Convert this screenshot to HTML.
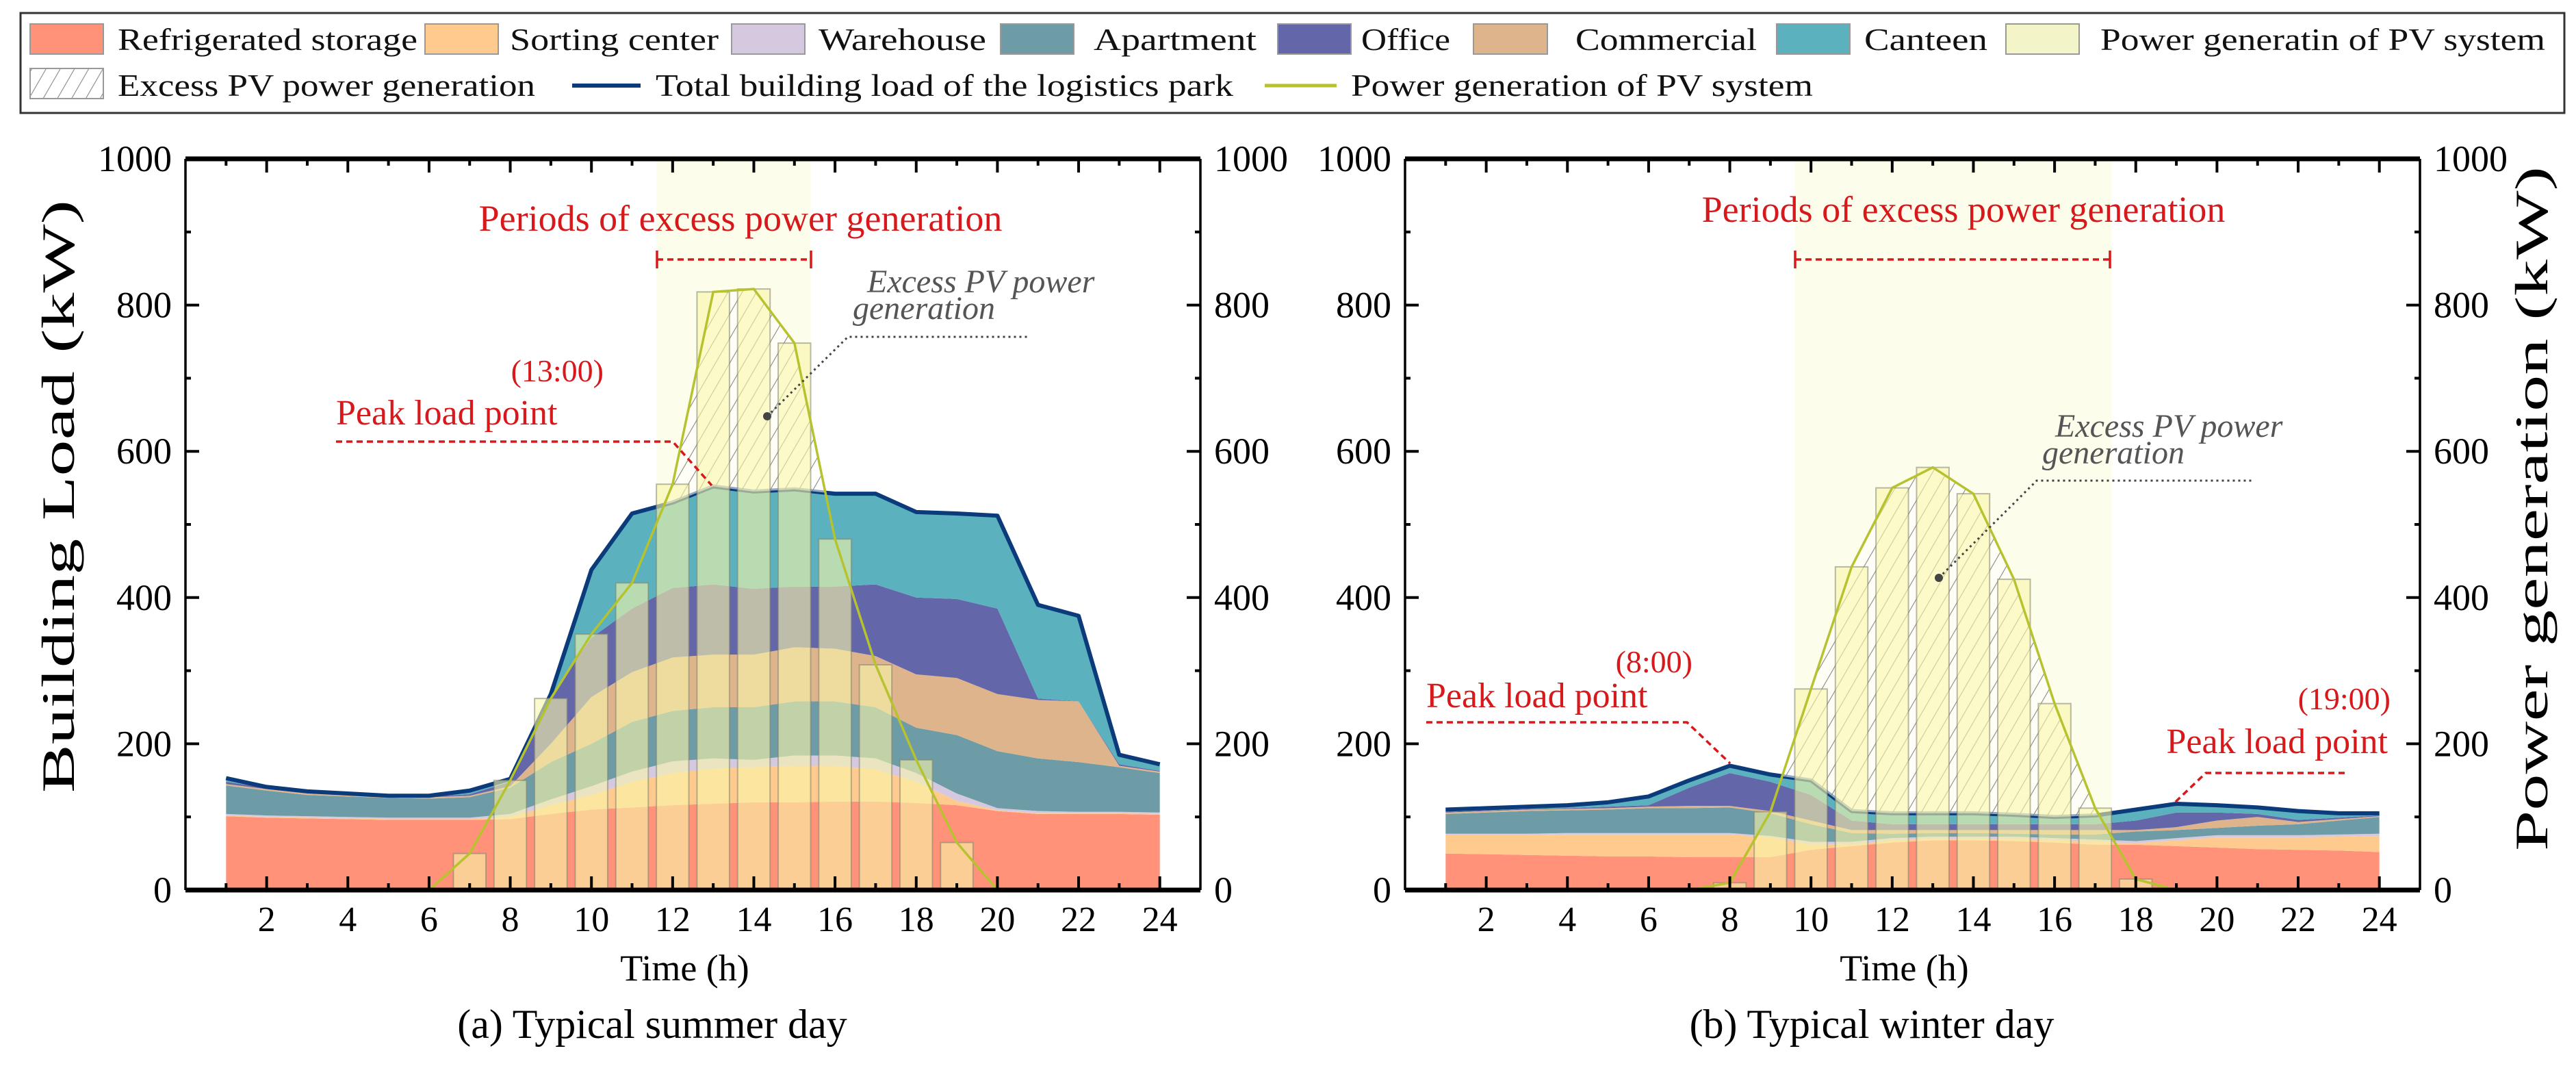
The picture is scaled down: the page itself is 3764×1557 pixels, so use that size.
<!DOCTYPE html>
<html><head><meta charset="utf-8"><style>
html,body{margin:0;padding:0;background:#fff;}
svg{display:block;}
text{font-family:"Liberation Serif",serif;}
</style></head><body>
<svg id="fig" width="3764" height="1557" viewBox="0 0 3764 1557" xmlns="http://www.w3.org/2000/svg">
<defs>
<pattern id="hatch" patternUnits="userSpaceOnUse" width="18" height="18" patternTransform="rotate(30)">
<rect width="18" height="18" fill="#ffffff" fill-opacity="0.55"/>
<line x1="0" y1="0" x2="0" y2="18" stroke="#8a8a80" stroke-width="2.2"/>
</pattern>
</defs>
<g id="legend">
<rect x="30" y="19" width="3717" height="146" fill="#fff" stroke="#333" stroke-width="3"/>
<g font-size="46" fill="#111">
<g><rect x="44" y="35" width="107" height="44" fill="#ff9278" stroke="#999" stroke-width="2"/><text x="172" y="73" textLength="438" lengthAdjust="spacingAndGlyphs">Refrigerated storage</text></g>
<g><rect x="621" y="35" width="107" height="44" fill="#ffca8e" stroke="#999" stroke-width="2"/><text x="745" y="73" textLength="305" lengthAdjust="spacingAndGlyphs">Sorting center</text></g>
<g><rect x="1069" y="35" width="107" height="44" fill="#d5c9e0" stroke="#999" stroke-width="2"/><text x="1196" y="73" textLength="245" lengthAdjust="spacingAndGlyphs">Warehouse</text></g>
<g><rect x="1462" y="35" width="107" height="44" fill="#6e9ca6" stroke="#999" stroke-width="2"/><text x="1598" y="73" textLength="238" lengthAdjust="spacingAndGlyphs">Apartment</text></g>
<g><rect x="1867" y="35" width="107" height="44" fill="#6466aa" stroke="#999" stroke-width="2"/><text x="1989" y="73" textLength="130" lengthAdjust="spacingAndGlyphs">Office</text></g>
<g><rect x="2153" y="35" width="108" height="44" fill="#deb48c" stroke="#999" stroke-width="2"/><text x="2302" y="73" textLength="265" lengthAdjust="spacingAndGlyphs">Commercial</text></g>
<g><rect x="2596" y="35" width="107" height="44" fill="#5bb1be" stroke="#999" stroke-width="2"/><text x="2724" y="73" textLength="180" lengthAdjust="spacingAndGlyphs">Canteen</text></g>
<g><rect x="2931" y="35" width="107" height="44" fill="#f3f5c8" stroke="#999" stroke-width="2"/><text x="3069" y="73" textLength="650" lengthAdjust="spacingAndGlyphs">Power generatin of PV system</text></g>
<g><rect x="44" y="100" width="107" height="44" fill="url(#hatch)" stroke="#999" stroke-width="2"/><text x="172" y="140" textLength="610" lengthAdjust="spacingAndGlyphs">Excess PV power generation</text></g>
<g><line x1="836" y1="125" x2="936" y2="125" stroke="#0b3b7a" stroke-width="6"/><text x="958" y="140" textLength="844" lengthAdjust="spacingAndGlyphs">Total building load of the logistics park</text></g>
<g><line x1="1848" y1="125" x2="1953" y2="125" stroke="#b6c22e" stroke-width="5"/><text x="1974" y="140" textLength="675" lengthAdjust="spacingAndGlyphs">Power generation of PV system</text></g>
</g>
</g>
<g id="panelA"></g>
<g id="panelB"></g>
<g id="annot"></g>
</svg>
<script>
// ---- data: typical summer day (cumulative stacked tops, kW), hours 1..24 ----
const hours = [1,2,3,4,5,6,7,8,9,10,11,12,13,14,15,16,17,18,19,20,21,22,23,24];
const layerNames = ['refrigerated-storage','sorting-center','warehouse','apartment','commercial','office','canteen'];
const layerColors = ['#ff9278','#ffca8e','#d5c9e0','#6e9ca6','#deb48c','#6466aa','#5bb1be'];
const sumRefr = [101,99,98,97,96,96,96,97,104,110,113,116,118,120,120,121,121,119,116,108,104,104,104,103];
const sumSort = [102,100,99,98,97,97,97,100,116,130,148,160,166,168,170,170,165,148,122,109,105,105,105,104];
const sumWare = [104,102,101,100,99,99,99,104,124,142,162,176,180,178,184,184,180,160,132,112,108,107,107,106];
const sumApt  = [143,136,130,128,126,125,127,140,175,200,230,245,250,250,258,258,250,222,212,190,180,175,168,160];
const sumComm = [145,138,132,130,128,127,129,142,200,264,298,318,322,322,332,330,320,295,290,268,260,258,170,162];
const sumOff  = [148,140,134,131,128,128,131,148,265,345,385,413,418,412,415,415,418,400,398,385,262,258,172,163];
const sumTotal= [153,141,135,132,129,129,136,152,268,438,515,530,552,545,548,542,542,517,515,512,390,375,185,172];
const sumPV   = [0,0,0,0,0,0,50,150,262,350,420,555,818,822,748,480,308,178,65,0,0,0,0,0];
// ---- data: typical winter day ----
const winRefr = [50,49,48,47,46,46,45,45,45,55,60,65,68,68,67,65,62,62,60,58,56,55,54,52];
const winSort = [75,75,75,76,76,76,76,76,72,62,62,68,70,70,70,68,66,64,68,72,72,72,73,74];
const winWare = [77,77,77,78,78,78,78,78,74,66,66,71,73,73,73,71,69,67,71,75,75,75,76,77];
const winApt  = [104,106,108,109,110,112,112,113,105,90,78,77,78,78,77,76,76,80,82,85,88,90,95,100];
const winComm = [106,108,110,111,112,114,115,115,108,95,82,82,82,82,82,82,82,82,86,95,100,93,97,101];
const winOff  = [107,109,111,112,114,116,140,160,148,130,95,90,90,90,90,90,90,95,106,106,104,96,99,102];
const winTotal= [110,112,114,116,120,128,150,170,158,150,108,105,105,105,103,100,102,110,118,116,113,108,105,105];
const winPV   = [0,0,0,0,0,0,0,10,107,275,442,550,578,542,425,255,112,15,0,0,0,0,0,0];
const yTicks = [0,200,400,600,800,1000];
const xTickLabels = [2,4,6,8,10,12,14,16,18,20,22,24];

const NS='http://www.w3.org/2000/svg';
function mk(parent,tag,attrs,txt){const e=document.createElementNS(NS,tag);for(const k in attrs)e.setAttribute(k,attrs[k]);if(txt!==undefined)e.textContent=txt;parent.appendChild(e);return e;}

function drawPanel(gid,x0,stacks,total,pv,band){
  const g=document.getElementById(gid);
  const W=1483, top=232, bot=1300;
  const X=h=>x0+h*W/25, Y=v=>bot-v*(bot-top)/1000;
  const bd=mk(g,'rect',{x:X(band[0]),y:top,width:X(band[1])-X(band[0]),height:bot-top,fill:'#fdfdec'});
  
  
  let prev=hours.map(()=>0);
  stacks.forEach((arr,i)=>{
    let d='M'+hours.map((h,j)=>X(h)+','+Y(arr[j])).join(' L');
    for(let j=hours.length-1;j>=0;j--) d+=' L'+X(hours[j])+','+Y(prev[j]);
    const p=mk(g,'path',{d:d+'Z',fill:layerColors[i]});
    
    
    prev=arr;
  });
  const tl=mk(g,'path',{d:'M'+hours.map((h,j)=>X(h)+','+Y(total[j])).join(' L'),fill:'none',stroke:'#0b3b7a','stroke-width':6,'stroke-linejoin':'round'});
  
  
  // excess hatched area
  let up=[],lo=[];
  for(let j=0;j<hours.length;j++){
    const d0=pv[j]-total[j];
    if(d0>0){up.push([hours[j],pv[j]]);lo.push([hours[j],total[j]]);}
    if(j<hours.length-1){
      const d1=pv[j+1]-total[j+1];
      if((d0>0)!==(d1>0)&&d0!==d1){
        const t=d0/(d0-d1);const hh=hours[j]+t;const vv=pv[j]+t*(pv[j+1]-pv[j]);
        up.push([hh,vv]);lo.push([hh,vv]);
      }
    }
  }
  if(up.length){
    let d='M'+up.map(p=>X(p[0])+','+Y(p[1])).join(' L');
    for(let k=lo.length-1;k>=0;k--) d+=' L'+X(lo[k][0])+','+Y(lo[k][1]);
    const hz=mk(g,'path',{d:d+'Z',fill:'url(#hatch)'});
    
    
  }
  hours.forEach((h,j)=>{
    if(pv[j]<=0) return;
    const b=mk(g,'rect',{x:X(h-0.4),y:Y(pv[j]),width:X(h+0.4)-X(h-0.4),height:bot-Y(pv[j]),fill:'rgba(248,246,170,0.6)',stroke:'rgba(130,130,110,0.55)','stroke-width':2});
    
    
  });
  let first=pv.findIndex(v=>v>0), last=pv.length-1-[...pv].reverse().findIndex(v=>v>0);
  const s=Math.max(0,first-1), e=Math.min(pv.length-1,last+1);
  let pd='';
  for(let j=s;j<=e;j++) pd+=(j===s?'M':' L')+X(hours[j])+','+Y(pv[j]);
  const pl=mk(g,'path',{d:pd,fill:'none',stroke:'#b6c22e','stroke-width':3.5});
  
  
  const ax=mk(g,'g',{});
  
  
  mk(ax,'line',{x1:x0,y1:bot,x2:x0+W,y2:bot,stroke:'#000','stroke-width':7});
  mk(ax,'line',{x1:x0,y1:top,x2:x0+W,y2:top,stroke:'#000','stroke-width':7});
  mk(ax,'line',{x1:x0,y1:top,x2:x0,y2:bot,stroke:'#000','stroke-width':3.5});
  mk(ax,'line',{x1:x0+W,y1:top,x2:x0+W,y2:bot,stroke:'#000','stroke-width':3.5});
  for(let h=1;h<=24;h++){
    const L=h%2===0?20:10;
    mk(ax,'line',{x1:X(h),y1:bot,x2:X(h),y2:bot-L,stroke:'#000','stroke-width':4});
    mk(ax,'line',{x1:X(h),y1:top,x2:X(h),y2:top+L,stroke:'#000','stroke-width':4});
  }
  for(let v=100;v<1000;v+=100){
    const L=v%200===0?20:8;
    mk(ax,'line',{x1:x0,y1:Y(v),x2:x0+L,y2:Y(v),stroke:'#000','stroke-width':4});
    mk(ax,'line',{x1:x0+W,y1:Y(v),x2:x0+W-L,y2:Y(v),stroke:'#000','stroke-width':4});
  }
  xTickLabels.forEach(h=>{
    const t=mk(ax,'text',{x:X(h),y:1360,'font-size':52,'text-anchor':'middle'},String(h));
    
    
  });
  yTicks.forEach(v=>{
    const t1=mk(ax,'text',{x:x0-20,y:Y(v)+18,'font-size':54,'text-anchor':'end'},String(v));
    
    
    const t2=mk(ax,'text',{x:x0+W+20,y:Y(v)+18,'font-size':54,'text-anchor':'start'},String(v));
    
    
  });
  const xt=mk(ax,'text',{x:x0+W/2-12,y:1432,'font-size':54,'text-anchor':'middle'},'Time (h)');
  
  
}
drawPanel('panelA',271,[sumRefr,sumSort,sumWare,sumApt,sumComm,sumOff,sumTotal],sumTotal,sumPV,[11.6,15.4]);
drawPanel('panelB',2053,[winRefr,winSort,winWare,winApt,winComm,winOff,winTotal],winTotal,winPV,[9.6,17.4]);
</script>
<script>
(function(){
const svg=document.getElementById('annot');
function t(x,y,s,sz,fill,anchor,extra){const e=document.createElementNS('http://www.w3.org/2000/svg','text');e.setAttribute('x',x);e.setAttribute('y',y);e.setAttribute('font-size',sz);e.setAttribute('fill',fill);e.setAttribute('text-anchor',anchor||'start');if(extra)for(const k in extra)e.setAttribute(k,extra[k]);e.textContent=s;svg.appendChild(e);return e;}
function l(d,stroke,w,dash){const e=document.createElementNS('http://www.w3.org/2000/svg','path');e.setAttribute('d',d);e.setAttribute('fill','none');e.setAttribute('stroke',stroke);e.setAttribute('stroke-width',w);if(dash)e.setAttribute('stroke-dasharray',dash);svg.appendChild(e);return e;}
const red='#d7191c', gray='#555';
let e;
e=t(1082,337,'Periods of excess power generation',54,red,'middle');
e=l('M960,379 L1185,379',red,3.5,'9,6');
l('M960,366 L960,392 M1185,366 L1185,392',red,3.5);
e=t(882,557,'(13:00)',46,red,'end');
e=t(491,620,'Peak load point',52,red,'start');
e=l('M491,645 L983,645 L1040,709',red,3.5,'9,6');
e=t(1267,427,'Excess PV power',48,gray,'start',{'font-style':'italic'});
t(1246,466,'generation',48,gray,'start',{'font-style':'italic'});
e=l('M1121,608 L1239,492 L1503,492','#444',3,'3,5');
const c1=document.createElementNS('http://www.w3.org/2000/svg','circle');c1.setAttribute('cx',1121);c1.setAttribute('cy',608);c1.setAttribute('r',6);c1.setAttribute('fill','#444');svg.appendChild(c1);
e=t(2869,324,'Periods of excess power generation',54,red,'middle');
e=l('M2623,379 L3083,379',red,3.5,'9,6');
l('M2623,366 L2623,392 M3083,366 L3083,392',red,3.5);
e=t(2473,982,'(8:00)',46,red,'end');
e=t(2084,1033,'Peak load point',52,red,'start');
l('M2084,1055 L2465,1055 L2528,1115',red,3.5,'9,6');
e=t(3493,1036,'(19:00)',46,red,'end');
e=t(3489,1100,'Peak load point',52,red,'end');
l('M3426,1129 L3223,1129 L3178,1172',red,3.5,'9,6');
e=t(3003,638,'Excess PV power',48,gray,'start',{'font-style':'italic'});
t(2984,677,'generation',48,gray,'start',{'font-style':'italic'});
l('M2833,844 L2976,702 L3294,702','#444',3,'3,5');
const c2=document.createElementNS('http://www.w3.org/2000/svg','circle');c2.setAttribute('cx',2833);c2.setAttribute('cy',844);c2.setAttribute('r',6);c2.setAttribute('fill','#444');svg.appendChild(c2);
e=t(0,0,'Building Load (kW)',68,'#000','middle',{transform:'translate(108,725) rotate(-90)',textLength:866,lengthAdjust:'spacingAndGlyphs'});
e=t(0,0,'Power generation (kW)',68,'#000','middle',{transform:'translate(3722,743) rotate(-90)',textLength:1000,lengthAdjust:'spacingAndGlyphs'});
e=t(953,1516,'(a) Typical summer day',60,'#000','middle');
e=t(2735,1516,'(b) Typical winter day',60,'#000','middle');
})();
</script>
</body></html>
